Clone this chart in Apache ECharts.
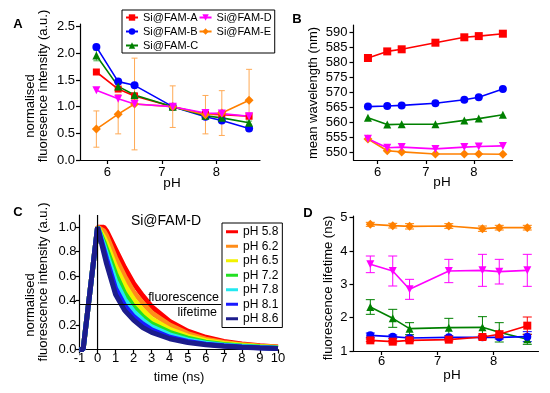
<!DOCTYPE html>
<html><head><meta charset="utf-8">
<script src="https://cdn.jsdelivr.net/npm/echarts@6/dist/echarts.min.js"></script>
<style>html,body{margin:0;padding:0;background:#fff}#c{width:550px;height:393px}</style>
</head><body><div id="c"></div>
<script>
// ---------- shared ----------
const pH = [5.8, 6.2, 6.5, 7.2, 7.8, 8.1, 8.6];
const pHTicks = [6, 7, 8];
const seriesNames = ['Si@FAM-A', 'Si@FAM-B', 'Si@FAM-C', 'Si@FAM-D', 'Si@FAM-E'];
// ---------- panel A: normalised intensity ----------
const intA = [1.65, 1.33, 1.20, 1.00, 0.86, 0.85, 0.82];
const intB = [2.12, 1.47, 1.40, 1.00, 0.81, 0.74, 0.59];
const intC = [1.96, 1.38, 1.22, 1.00, 0.83, 0.79, 0.70];
const intD = [1.31, 1.15, 1.05, 1.00, 0.88, 0.87, 0.82];
const intE = [0.58, 0.86, 1.05, 1.00, 0.85, 0.88, 1.12];
const intErrC = [0.10, 0.04, 0.04, 0.03, 0.03, 0.03, 0.03];
const intErrE = [0.34, 0.37, 0.86, 0.39, 0.36, 0.42, 0.58];
const intTicks = [0, 0.5, 1.0, 1.5, 2.0, 2.5];
// ---------- panel B: mean wavelength ----------
const wlA = [581.5, 583.7, 584.4, 586.6, 588.4, 588.8, 589.6];
const wlB = [565.3, 565.5, 565.7, 566.4, 567.6, 568.4, 571.2];
const wlC = [561.6, 559.3, 559.4, 559.4, 560.7, 561.3, 562.6];
const wlD = [554.6, 551.6, 551.8, 551.2, 551.8, 552.0, 552.2];
const wlE = [554.5, 550.6, 550.2, 549.5, 549.5, 549.5, 549.4];
const wlTicks = [550, 555, 560, 565, 570, 575, 580, 585, 590];
// ---------- panel D: lifetime ----------
const ltA = [1.32, 1.28, 1.32, 1.34, 1.42, 1.50, 1.76];
const ltB = [1.47, 1.43, 1.39, 1.41, 1.41, 1.41, 1.43];
const ltC = [2.32, 1.98, 1.67, 1.70, 1.71, 1.56, 1.35];
const ltD = [3.60, 3.40, 2.85, 3.40, 3.42, 3.38, 3.42];
const ltE = [4.80, 4.76, 4.74, 4.75, 4.67, 4.70, 4.70];
const ltErrA = [0.04, 0.04, 0.04, 0.04, 0.05, 0.10, 0.26];
const ltErrB = [0.07, 0.05, 0.05, 0.05, 0.05, 0.05, 0.15];
const ltErrC = [0.22, 0.27, 0.18, 0.28, 0.32, 0.29, 0.15];
const ltErrD = [0.25, 0.45, 0.30, 0.35, 0.48, 0.37, 0.48];
const ltErrE = [0.06, 0.07, 0.08, 0.07, 0.08, 0.07, 0.07];
const ltTicks = [1, 2, 3, 4, 5];
// ---------- panel C: decay curves (Si@FAM-D) ----------
const decayTime = [-1, -0.8, 0, 0.35, 0.5, 1, 1.5, 2, 2.5, 3, 4, 5, 6, 7, 8, 9, 10];
const decayLabels = ['pH 5.8', 'pH 6.2', 'pH 6.5', 'pH 7.2', 'pH 7.8', 'pH 8.1', 'pH 8.6'];
const decay58 = [0, 0, 1, 1.00, 0.97, 0.82, 0.67, 0.54, 0.44, 0.35, 0.23, 0.15, 0.10, 0.065, 0.045, 0.030, 0.020];
const decay62 = [0, 0, 1, 0.97, 0.93, 0.75, 0.60, 0.47, 0.38, 0.30, 0.20, 0.13, 0.085, 0.058, 0.040, 0.027, 0.018];
const decay65 = [0, 0, 1, 0.92, 0.87, 0.68, 0.53, 0.41, 0.32, 0.25, 0.165, 0.11, 0.072, 0.049, 0.034, 0.024, 0.016];
const decay72 = [0, 0, 1, 0.88, 0.82, 0.62, 0.46, 0.35, 0.27, 0.21, 0.14, 0.092, 0.060, 0.041, 0.028, 0.020, 0.013];
const decay78 = [0, 0, 1, 0.85, 0.78, 0.56, 0.41, 0.31, 0.24, 0.185, 0.12, 0.078, 0.052, 0.035, 0.024, 0.017, 0.011];
const decay81 = [0, 0, 1, 0.82, 0.74, 0.50, 0.36, 0.27, 0.21, 0.16, 0.10, 0.066, 0.044, 0.030, 0.021, 0.014, 0.009];
const decay86 = [0, 0, 1, 0.79, 0.70, 0.45, 0.32, 0.24, 0.18, 0.14, 0.088, 0.057, 0.038, 0.026, 0.018, 0.012, 0.008];
const timeTicks = [-1, 0, 1, 2, 3, 4, 5, 6, 7, 8, 9, 10];
const normTicks = [0, 0.2, 0.4, 0.6, 0.8, 1.0];
const zeroLine = [[0, 0], [0, 1.1]];
const lifetimeLine = [[-1, 0.368], [6.85, 0.368]];

// ---------- styles ----------
const FF = 'Liberation Sans, Arial, sans-serif';
const colors = ['#ff0000', '#0000ff', '#008000', '#ff00ff', '#ff8000'];
const symbols = ['rect', 'circle', 'triangle', 'path://M0,0L20,0L10,17Z', 'diamond'];
const decayColors = ['#ff0000', '#ff8c1a', '#f2f200', '#22e022', '#22e8f0', '#1a1aff', '#1c1c8c'];
const decays = [decay58, decay62, decay65, decay72, decay78, decay81, decay86];

function xPH(gi, margin) {
  return {type: 'value', gridIndex: gi, min: 5.5, max: 8.8,
    axisLine: {show: true, onZero: false, lineStyle: {color: '#000', width: 1.2}},
    axisTick: {show: true, customValues: pHTicks, length: 4, lineStyle: {color: '#000', width: 1.2}},
    axisLabel: {customValues: pHTicks, margin: margin, color: '#000', fontSize: 13, fontFamily: FF},
    splitLine: {show: false}};
}
function yAx(gi, min, max, ticks, fmt, margin) {
  return {type: 'value', gridIndex: gi, min: min, max: max,
    axisLine: {show: true, onZero: false, lineStyle: {color: '#000', width: 1.2}},
    axisTick: {show: true, customValues: ticks, length: 4, lineStyle: {color: '#000', width: 1.2}},
    axisLabel: {customValues: ticks, margin: margin, color: '#000', fontSize: 13, fontFamily: FF, formatter: fmt},
    splitLine: {show: false}};
}
function lineS(name, gi, ys, k, size) {
  return {name: name, type: 'line', xAxisIndex: gi, yAxisIndex: gi,
    data: pH.map((x, i) => [x, ys[i]]), symbol: symbols[k], symbolSize: size,
    itemStyle: {color: colors[k]}, lineStyle: {color: colors[k], width: 1.6}, z: 3, animation: false};
}
function errS(gi, ys, errs, color, cap, z) {
  return {type: 'custom', xAxisIndex: gi, yAxisIndex: gi,
    data: pH.map((x, i) => [x, ys[i] - errs[i], ys[i] + errs[i]]),
    encode: {x: 0, y: [1, 2]}, z: z || 2, animation: false, silent: true,
    renderItem: function (params, api) {
      const x = api.value(0);
      const lo = api.coord([x, api.value(1)]);
      const hi = api.coord([x, api.value(2)]);
      const h = cap / 2;
      const st = {stroke: color, lineWidth: 1};
      return {type: 'group', children: [
        {type: 'line', shape: {x1: lo[0], y1: lo[1], x2: hi[0], y2: hi[1]}, style: st},
        {type: 'line', shape: {x1: lo[0] - h, y1: lo[1], x2: lo[0] + h, y2: lo[1]}, style: st},
        {type: 'line', shape: {x1: hi[0] - h, y1: hi[1], x2: hi[0] + h, y2: hi[1]}, style: st}
      ]};
    }};
}
function txt(t, x, y, size, rot, align, bold) {
  return {type: 'text', x: x, y: y, rotation: rot || 0, z: 100,
    style: {text: t, x: 0, y: 0, fill: '#000', align: align || 'center', verticalAlign: 'middle',
      font: (bold ? 'bold ' : '') + size + 'px ' + FF}};
}

const series = [];
// A
series.push(errS(0, intE, intErrE, '#ffaa55', 6, 2));
series.push(errS(0, intC, intErrC, '#4caf4c', 6, 2));
series.push(lineS(seriesNames[0], 0, intA, 0, 7));
series.push(lineS(seriesNames[1], 0, intB, 1, 8));
series.push(lineS(seriesNames[2], 0, intC, 2, 8));
series.push(lineS(seriesNames[4], 0, intE, 4, 9));
series.push(lineS(seriesNames[3], 0, intD, 3, 8));
// B
[wlA, wlB, wlC, wlE, wlD].forEach((d, j) => {
  const k = [0, 1, 2, 4, 3][j];
  series.push(lineS(seriesNames[k], 1, d, k, k === 4 ? 9 : 8));
});
// D
const ltVals = [ltA, ltB, ltC, ltD, ltE];
const ltErrs = [ltErrA, ltErrB, ltErrC, ltErrD, ltErrE];
[4, 3, 2, 1, 0].forEach(k => {
  series.push(errS(3, ltVals[k], ltErrs[k], colors[k], 9, 2));
  series.push(lineS(seriesNames[k], 3, ltVals[k], k, k === 4 ? 9 : 8));
});
// C
decays.forEach((d, i) => {
  series.push({name: decayLabels[i], type: 'line', xAxisIndex: 2, yAxisIndex: 2,
    data: decayTime.map((t, j) => [t, d[j]]), showSymbol: false, symbol: 'none',
    lineStyle: {color: decayColors[i], width: 5}, itemStyle: {color: decayColors[i]}, z: 3, animation: false});
});
[zeroLine, lifetimeLine].forEach(d => {
  series.push({type: 'line', xAxisIndex: 2, yAxisIndex: 2, data: d, showSymbol: false, symbol: 'none',
    lineStyle: {color: '#000', width: 1.2}, z: 10, animation: false, silent: true});
});

const option = {
  backgroundColor: '#fff',
  animation: false,
  grid: [
    {left: 80, top: 24, width: 180, height: 136},
    {left: 353.5, top: 25, width: 159, height: 135},
    {left: 79.5, top: 215, width: 198.5, height: 134.5},
    {left: 353.5, top: 216, width: 185, height: 135}
  ],
  xAxis: [
    xPH(0, 6), xPH(1, 6),
    {type: 'value', gridIndex: 2, min: -1, max: 10, interval: 1,
      axisLine: {show: true, onZero: false, lineStyle: {color: '#000', width: 1.2}},
      axisTick: {show: true, customValues: timeTicks, length: 4, lineStyle: {color: '#000', width: 1.2}},
      axisLabel: {customValues: timeTicks, margin: 2, color: '#000', fontSize: 13, fontFamily: FF},
      splitLine: {show: false}},
    xPH(3, 4)
  ],
  yAxis: [
    yAx(0, 0, 2.55, intTicks, v => v.toFixed(1), 5),
    yAx(1, 547.5, 592.5, wlTicks, v => String(v), 6),
    yAx(2, 0, 1.1, normTicks, v => v.toFixed(1), 3),
    yAx(3, 1, 5.05, ltTicks, v => String(v), 6)
  ],
  legend: [
    {left: 122, top: 10, width: 160, orient: 'horizontal', selectedMode: false,
      itemWidth: 12, itemHeight: 8, itemGap: 1, padding: [1, 3, 1, 3],
      borderColor: '#000', borderWidth: 1,
      textStyle: {fontSize: 11, fontFamily: FF, color: '#000', lineHeight: 13},
      data: ['Si@FAM-A', 'Si@FAM-D', 'Si@FAM-B', 'Si@FAM-E', 'Si@FAM-C']},
    {left: 222, top: 223, orient: 'vertical', selectedMode: false,
      itemWidth: 12, itemHeight: 3, itemGap: 1, padding: [2, 4, 2, 4],
      borderColor: '#000', borderWidth: 1, backgroundColor: '#fff',
      textStyle: {fontSize: 12, fontFamily: FF, color: '#000', lineHeight: 13.5},
      data: decayLabels.map(n => ({name: n, icon: 'rect'}))}
  ],
  graphic: [
    txt('A', 18, 24, 13, 0, 'center', true),
    txt('B', 297, 19, 13, 0, 'center', true),
    txt('C', 18, 212, 13, 0, 'center', true),
    txt('D', 308, 213, 13, 0, 'center', true),
    txt('normalised', 30, 106, 13, Math.PI / 2),
    txt('fluoresence intensity (a.u.)', 43, 86, 13, Math.PI / 2),
    txt('pH', 172, 183, 13.5),
    txt('mean wavelength (nm)', 313, 93, 13, Math.PI / 2),
    txt('pH', 442, 182, 13.5),
    txt('normalised', 30, 305, 13, Math.PI / 2),
    txt('fluorescence intensity (a.u.)', 43, 282, 13, Math.PI / 2),
    txt('time (ns)', 179, 377, 13),
    txt('fluorescence lifetime (ns)', 328, 288, 13, Math.PI / 2),
    txt('pH', 452, 375, 13.5),
    txt('Si@FAM-D', 166, 221, 14),
    txt('fluorescence', 219, 298, 12.5, 0, 'right'),
    txt('lifetime', 217, 313, 12.5, 0, 'right')
  ],
  series: series
};
const chart = echarts.init(document.getElementById('c'), null, {renderer: 'canvas'});
chart.setOption(option);
</script>
</body></html>
